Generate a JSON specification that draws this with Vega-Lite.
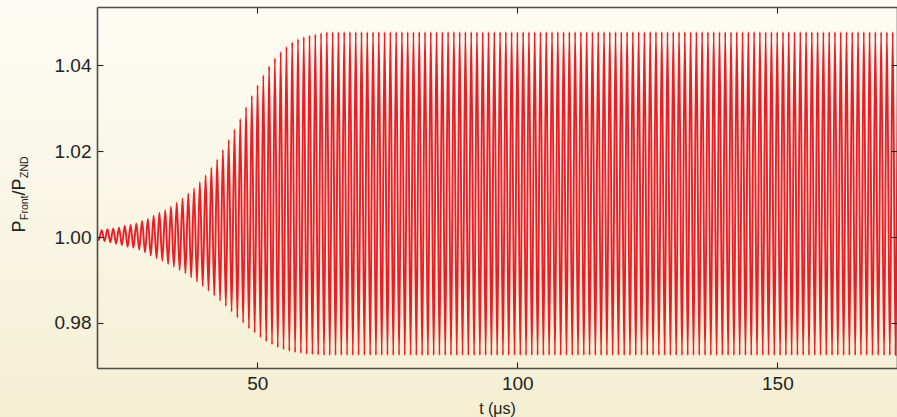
{
  "$schema": "https://vega.github.io/schema/vega-lite/v6.json",
  "width": 800,
  "height": 361,
  "autosize": "none",
  "padding": {"left": 97, "top": 7, "right": 0, "bottom": 49},
  "background": "#f9f6e6",
  "config": {
    "view": {"stroke": null},
    "font": "Liberation Sans",
    "axis": {"grid": false, "domainColor": "#4d4d4d", "domainWidth": 1.6, "tickColor": "#222222", "tickWidth": 1.1, "tickSize": -6, "labelColor": "#222222", "titleColor": "#222222", "labelFont": "Liberation Sans", "titleFont": "Liberation Sans", "titleFontWeight": "normal"}
  },
  "resolve": {"axis": {"x": "independent", "y": "independent"}},
  "layer": [
    {
      "data": {"values": [{}]},
      "mark": {"type": "rect", "clip": false, "zindex": 0, "fill": {"gradient": "linear", "x1": 0, "y1": 0, "x2": 0, "y2": 1, "stops": [{"offset": 0, "color": "#fdfcf4"}, {"offset": 0.5, "color": "#f9f6e5"}, {"offset": 1, "color": "#f4eed2"}]}},
      "encoding": {
        "x": {"datum": 0.5, "type": "quantitative", "scale": {"domain": [19.2, 173], "nice": false, "zero": false},
              "axis": {"orient": "top", "zindex": 2, "values": [50, 100, 150], "labels": false, "title": "ZND", "titleFontSize": 10.5, "titleAngle": -90, "titleAlign": "left", "titleBaseline": "alphabetic", "titleX": -70, "titleY": 170.5}},
        "x2": {"datum": 173.5},
        "y": {"datum": 1.0553, "type": "quantitative", "scale": {"domain": [0.9695, 1.0536], "nice": false, "zero": false},
              "axis": {"orient": "right", "zindex": 2, "values": [0.98, 1.0, 1.02, 1.04], "labels": false, "title": "Front", "titleFontSize": 10.5, "titleAngle": -90, "titleAlign": "left", "titleBaseline": "alphabetic", "titleX": -870, "titleY": 212.5}},
        "y2": {"datum": 0.958}
      }
    },
    {
      "data": {"values": [
        {"t":18.99,"p":1.0015},
        {"t":19.545,"p":0.9993},{"t":20.10,"p":1.00163},
        {"t":20.655,"p":0.99907},{"t":21.21,"p":1.00186},
        {"t":21.765,"p":0.99876},{"t":22.32,"p":1.00203},
        {"t":22.875,"p":0.99844},{"t":23.43,"p":1.00217},
        {"t":23.985,"p":0.99814},{"t":24.54,"p":1.00263},
        {"t":25.095,"p":0.99774},{"t":25.65,"p":1.0028},
        {"t":26.205,"p":0.99748},{"t":26.76,"p":1.00319},
        {"t":27.315,"p":0.99706},{"t":27.87,"p":1.00373},
        {"t":28.425,"p":0.99643},{"t":28.98,"p":1.0042},
        {"t":29.535,"p":0.99569},{"t":30.09,"p":1.00497},
        {"t":30.645,"p":0.99503},{"t":31.2,"p":1.00566},
        {"t":31.755,"p":0.99448},{"t":32.31,"p":1.00629},
        {"t":32.865,"p":0.99371},{"t":33.42,"p":1.00706},
        {"t":33.975,"p":0.99308},{"t":34.53,"p":1.008},
        {"t":35.085,"p":0.99231},{"t":35.64,"p":1.00902},
        {"t":36.195,"p":0.99154},{"t":36.75,"p":1.01019},
        {"t":37.305,"p":0.99061},{"t":37.86,"p":1.01135},
        {"t":38.415,"p":0.98958},{"t":38.97,"p":1.01282},
        {"t":39.525,"p":0.98858},{"t":40.08,"p":1.01445},
        {"t":40.635,"p":0.98748},{"t":41.19,"p":1.01615},
        {"t":41.745,"p":0.98632},{"t":42.3,"p":1.01811},
        {"t":42.855,"p":0.98515},{"t":43.41,"p":1.02028},
        {"t":43.965,"p":0.98392},{"t":44.52,"p":1.02261},
        {"t":45.075,"p":0.98259},{"t":45.63,"p":1.0251},
        {"t":46.185,"p":0.98124},{"t":46.74,"p":1.02751},
        {"t":47.295,"p":0.98002},{"t":47.85,"p":1.03023},
        {"t":48.405,"p":0.97872},{"t":48.96,"p":1.03294},
        {"t":49.515,"p":0.9777},{"t":50.07,"p":1.03536},
        {"t":50.625,"p":0.97662},{"t":51.18,"p":1.03769},
        {"t":51.735,"p":0.97569},{"t":52.29,"p":1.03979},
        {"t":52.845,"p":0.97499},{"t":53.4,"p":1.04166},
        {"t":53.955,"p":0.97429},{"t":54.51,"p":1.04312},
        {"t":55.065,"p":0.97382},{"t":55.62,"p":1.04436},
        {"t":56.175,"p":0.97343},{"t":56.73,"p":1.04538},
        {"t":57.285,"p":0.97312},{"t":57.84,"p":1.04615},
        {"t":58.395,"p":0.97296},{"t":58.95,"p":1.04662},
        {"t":59.505,"p":0.97273},{"t":60.06,"p":1.04702},
        {"t":60.615,"p":0.97266},{"t":61.17,"p":1.04725},
        {"t":61.725,"p":0.97256},{"t":62.28,"p":1.04755},
        {"t":62.835,"p":0.9725},{"t":63.39,"p":1.0478},
        {"t":63.945,"p":0.9725},{"t":64.5,"p":1.0478},
        {"t":65.055,"p":0.9725},{"t":65.61,"p":1.0478},
        {"t":66.165,"p":0.9725},{"t":66.72,"p":1.0478},
        {"t":67.275,"p":0.9725},{"t":67.83,"p":1.0478},
        {"t":68.385,"p":0.9725},{"t":68.94,"p":1.0478},
        {"t":69.495,"p":0.9725},{"t":70.05,"p":1.0478},
        {"t":70.605,"p":0.9725},{"t":71.16,"p":1.0478},
        {"t":71.715,"p":0.9725},{"t":72.27,"p":1.0478},
        {"t":72.825,"p":0.9725},{"t":73.38,"p":1.0478},
        {"t":73.935,"p":0.9725},{"t":74.49,"p":1.0478},
        {"t":75.045,"p":0.9725},{"t":75.6,"p":1.0478},
        {"t":76.155,"p":0.9725},{"t":76.71,"p":1.0478},
        {"t":77.265,"p":0.9725},{"t":77.82,"p":1.0478},
        {"t":78.375,"p":0.9725},{"t":78.93,"p":1.0478},
        {"t":79.485,"p":0.9725},{"t":80.04,"p":1.0478},
        {"t":80.595,"p":0.9725},{"t":81.15,"p":1.0478},
        {"t":81.705,"p":0.9725},{"t":82.26,"p":1.0478},
        {"t":82.815,"p":0.9725},{"t":83.37,"p":1.0478},
        {"t":83.925,"p":0.9725},{"t":84.48,"p":1.0478},
        {"t":85.035,"p":0.9725},{"t":85.59,"p":1.0478},
        {"t":86.145,"p":0.9725},{"t":86.7,"p":1.0478},
        {"t":87.255,"p":0.9725},{"t":87.81,"p":1.0478},
        {"t":88.365,"p":0.9725},{"t":88.92,"p":1.0478},
        {"t":89.475,"p":0.9725},{"t":90.03,"p":1.0478},
        {"t":90.585,"p":0.9725},{"t":91.14,"p":1.0478},
        {"t":91.695,"p":0.9725},{"t":92.25,"p":1.0478},
        {"t":92.805,"p":0.9725},{"t":93.36,"p":1.0478},
        {"t":93.915,"p":0.9725},{"t":94.47,"p":1.0478},
        {"t":95.025,"p":0.9725},{"t":95.58,"p":1.0478},
        {"t":96.135,"p":0.9725},{"t":96.69,"p":1.0478},
        {"t":97.245,"p":0.9725},{"t":97.8,"p":1.0478},
        {"t":98.355,"p":0.9725},{"t":98.91,"p":1.0478},
        {"t":99.465,"p":0.9725},{"t":100.02,"p":1.0478},
        {"t":100.575,"p":0.9725},{"t":101.13,"p":1.0478},
        {"t":101.685,"p":0.9725},{"t":102.24,"p":1.0478},
        {"t":102.795,"p":0.9725},{"t":103.35,"p":1.0478},
        {"t":103.905,"p":0.9725},{"t":104.46,"p":1.0478},
        {"t":105.015,"p":0.9725},{"t":105.57,"p":1.0478},
        {"t":106.125,"p":0.9725},{"t":106.68,"p":1.0478},
        {"t":107.235,"p":0.9725},{"t":107.79,"p":1.0478},
        {"t":108.345,"p":0.9725},{"t":108.9,"p":1.0478},
        {"t":109.455,"p":0.9725},{"t":110.01,"p":1.0478},
        {"t":110.565,"p":0.9725},{"t":111.12,"p":1.0478},
        {"t":111.675,"p":0.9725},{"t":112.23,"p":1.0478},
        {"t":112.785,"p":0.9725},{"t":113.34,"p":1.0478},
        {"t":113.895,"p":0.9725},{"t":114.45,"p":1.0478},
        {"t":115.005,"p":0.9725},{"t":115.56,"p":1.0478},
        {"t":116.115,"p":0.9725},{"t":116.67,"p":1.0478},
        {"t":117.225,"p":0.9725},{"t":117.78,"p":1.0478},
        {"t":118.335,"p":0.9725},{"t":118.89,"p":1.0478},
        {"t":119.445,"p":0.9725},{"t":120.0,"p":1.0478},
        {"t":120.555,"p":0.9725},{"t":121.11,"p":1.0478},
        {"t":121.665,"p":0.9725},{"t":122.22,"p":1.0478},
        {"t":122.775,"p":0.9725},{"t":123.33,"p":1.0478},
        {"t":123.885,"p":0.9725},{"t":124.44,"p":1.0478},
        {"t":124.995,"p":0.9725},{"t":125.55,"p":1.0478},
        {"t":126.105,"p":0.9725},{"t":126.66,"p":1.0478},
        {"t":127.215,"p":0.9725},{"t":127.77,"p":1.0478},
        {"t":128.325,"p":0.9725},{"t":128.88,"p":1.0478},
        {"t":129.435,"p":0.9725},{"t":129.99,"p":1.0478},
        {"t":130.545,"p":0.9725},{"t":131.1,"p":1.0478},
        {"t":131.655,"p":0.9725},{"t":132.21,"p":1.0478},
        {"t":132.765,"p":0.9725},{"t":133.32,"p":1.0478},
        {"t":133.875,"p":0.9725},{"t":134.43,"p":1.0478},
        {"t":134.985,"p":0.9725},{"t":135.54,"p":1.0478},
        {"t":136.095,"p":0.9725},{"t":136.65,"p":1.0478},
        {"t":137.205,"p":0.9725},{"t":137.76,"p":1.0478},
        {"t":138.315,"p":0.9725},{"t":138.87,"p":1.0478},
        {"t":139.425,"p":0.9725},{"t":139.98,"p":1.0478},
        {"t":140.535,"p":0.9725},{"t":141.09,"p":1.0478},
        {"t":141.645,"p":0.9725},{"t":142.2,"p":1.0478},
        {"t":142.755,"p":0.9725},{"t":143.31,"p":1.0478},
        {"t":143.865,"p":0.9725},{"t":144.42,"p":1.0478},
        {"t":144.975,"p":0.9725},{"t":145.53,"p":1.0478},
        {"t":146.085,"p":0.9725},{"t":146.64,"p":1.0478},
        {"t":147.195,"p":0.9725},{"t":147.75,"p":1.0478},
        {"t":148.305,"p":0.9725},{"t":148.86,"p":1.0478},
        {"t":149.415,"p":0.9725},{"t":149.97,"p":1.0478},
        {"t":150.525,"p":0.9725},{"t":151.08,"p":1.0478},
        {"t":151.635,"p":0.9725},{"t":152.19,"p":1.0478},
        {"t":152.745,"p":0.9725},{"t":153.3,"p":1.0478},
        {"t":153.855,"p":0.9725},{"t":154.41,"p":1.0478},
        {"t":154.965,"p":0.9725},{"t":155.52,"p":1.0478},
        {"t":156.075,"p":0.9725},{"t":156.63,"p":1.0478},
        {"t":157.185,"p":0.9725},{"t":157.74,"p":1.0478},
        {"t":158.295,"p":0.9725},{"t":158.85,"p":1.0478},
        {"t":159.405,"p":0.9725},{"t":159.96,"p":1.0478},
        {"t":160.515,"p":0.9725},{"t":161.07,"p":1.0478},
        {"t":161.625,"p":0.9725},{"t":162.18,"p":1.0478},
        {"t":162.735,"p":0.9725},{"t":163.29,"p":1.0478},
        {"t":163.845,"p":0.9725},{"t":164.4,"p":1.0478},
        {"t":164.955,"p":0.9725},{"t":165.51,"p":1.0478},
        {"t":166.065,"p":0.9725},{"t":166.62,"p":1.0478},
        {"t":167.175,"p":0.9725},{"t":167.73,"p":1.0478},
        {"t":168.285,"p":0.9725},{"t":168.84,"p":1.0478},
        {"t":169.395,"p":0.9725},{"t":169.95,"p":1.0478},
        {"t":170.505,"p":0.9725},{"t":171.06,"p":1.0478},
        {"t":171.615,"p":0.9725},{"t":172.17,"p":1.0478},
        {"t":172.725,"p":0.9725},{"t":173.28,"p":1.0478}
      ]},
      "mark": {"type": "line", "interpolate": "monotone", "color": "#ee1c25", "strokeWidth": 1.9, "clip": true},
      "encoding": {
        "x": {"field": "t", "type": "quantitative", "scale": {"domain": [19.2, 173], "nice": false, "zero": false},
              "axis": {"orient": "bottom", "zindex": 2, "values": [50, 100, 150], "labelFontSize": 19, "labelPadding": 12, "title": "t (μs)", "titleFontSize": 16, "titleAlign": "center", "titleBaseline": "alphabetic", "titleX": 400, "titleY": 45}},
        "y": {"field": "p", "type": "quantitative", "scale": {"domain": [0.9695, 1.0536], "nice": false, "zero": false},
              "axis": {"orient": "left", "zindex": 2, "values": [0.98, 1.0, 1.02, 1.04], "format": ".2f", "labelFontSize": 19, "labelPadding": 12, "title": "P\u00a0\u00a0\u00a0\u00a0\u00a0/P", "titleFontSize": 18, "titleAngle": -90, "titleAlign": "left", "titleBaseline": "alphabetic", "titleX": -73, "titleY": 225}}
      }
    }
  ]
}
